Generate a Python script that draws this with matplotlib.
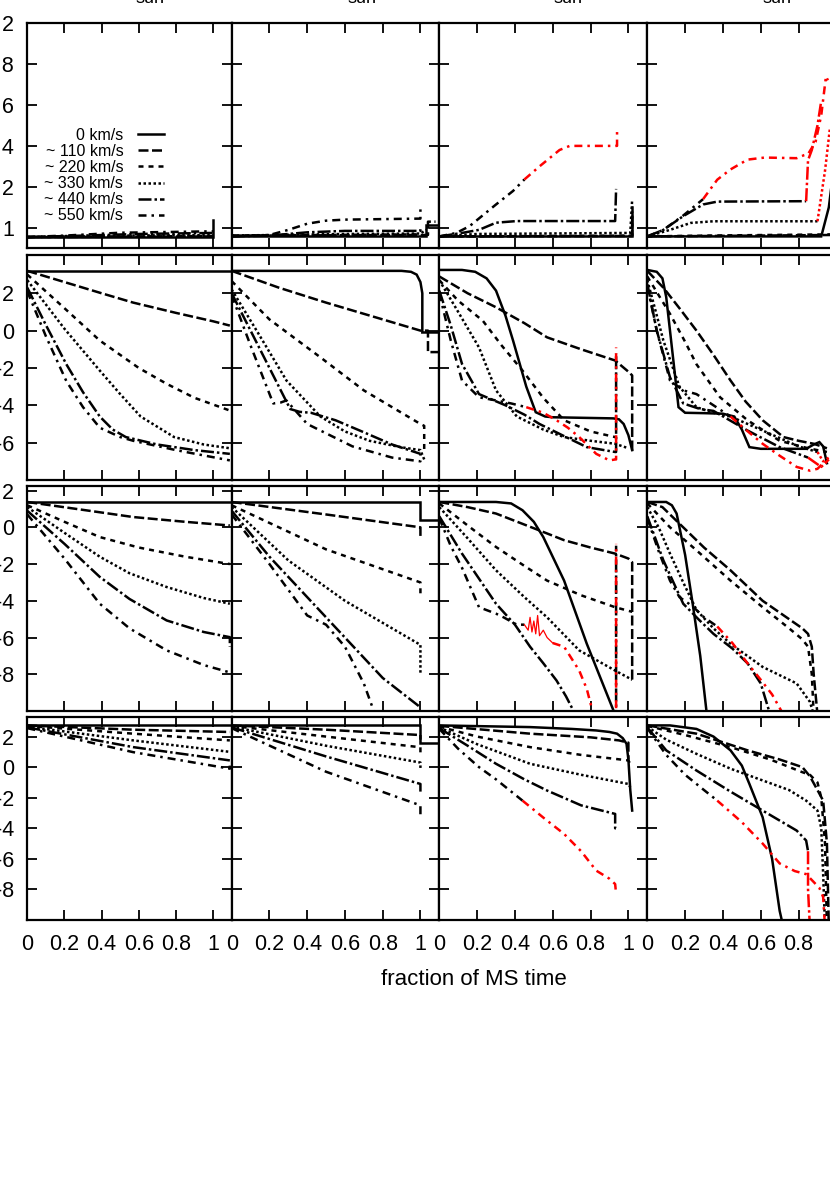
import matplotlib
matplotlib.use('Agg')
import matplotlib.pyplot as plt

plt.rcParams['font.family'] = ['Liberation Sans', 'DejaVu Sans']

# ------------------------------------------------------------
# data: (x, y) per rotation velocity
# ------------------------------------------------------------
SPEEDS = ['0', '110', '220', '330', '440', '550']
LABELS = ['0 km/s', '~ 110 km/s', '~ 220 km/s', '~ 330 km/s', '~ 440 km/s', '~ 550 km/s']
COL_TITLES = ['sun', 'sun', 'sun', 'sun']

# row 1
R1C1 = {
    '0':   ([0, 0.99, 1.0, 1.0], [0.955, 0.955, 0.955, 1.04]),
    '110': ([0, 1.0], [0.955, 0.958]),
    '220': ([0, 1.0], [0.955, 0.960]),
    '330': ([0, 0.5, 1.0], [0.955, 0.962, 0.965]),
    '440': ([0, 0.3, 0.6, 1.0], [0.955, 0.962, 0.970, 0.975]),
    '550': ([0, 0.2, 0.5, 1.0], [0.955, 0.962, 0.976, 0.983]),
}
R1C1_RED = {}

R1C2 = {
    '0':   ([0, 1.03, 1.03, 1.1], [0.962, 0.962, 1.015, 1.015]),
    '110': ([0, 1.0, 1.04, 1.04, 1.08], [0.962, 0.965, 0.965, 1.03, 1.03]),
    '220': ([0, 1.0], [0.962, 0.968]),
    '330': ([0, 0.6, 1.0, 1.03], [0.962, 0.970, 0.972, 0.99]),
    '440': ([0, 0.2, 0.4, 0.6, 1.0, 1.0], [0.958, 0.962, 0.978, 0.985, 0.985, 1.0]),
    '550': ([0, 0.2, 0.3, 0.4, 0.5, 0.6, 1.0, 1.0], [0.958, 0.965, 0.99, 1.02, 1.035, 1.04, 1.045, 1.09]),
}
R1C2_RED = {}

R1C3 = {
    '0':   ([0, 1.02, 1.02], [0.958, 0.958, 1.10]),
    '110': ([0, 1.02, 1.02], [0.958, 0.960, 1.08]),
    '220': ([0, 1.02, 1.02], [0.958, 0.962, 1.06]),
    '330': ([0, 0.2, 1.01, 1.02], [0.958, 0.970, 0.975, 1.14]),
    '440': ([0, 0.12, 0.21, 0.3, 0.41, 0.93, 0.935], [0.958, 0.975, 0.99, 1.025, 1.033, 1.033, 1.19]),
    '550': ([0, 0.09, 0.16, 0.3, 0.39, 0.45], [0.958, 0.975, 1.008, 1.114, 1.18, 1.236]),
}
R1C3_RED = {
    '550': ([0.45, 0.53, 0.636, 0.69, 0.92, 0.94, 0.94], [1.236, 1.30, 1.38, 1.40, 1.40, 1.40, 1.48]),
}

R1C4 = {
    '0':   ([0, 0.92, 0.96, 0.98], [0.958, 0.958, 1.1, 1.25]),
    '110': ([0, 0.3, 0.98], [0.958, 0.960, 0.965]),
    '220': ([0, 0.3, 0.98], [0.958, 0.962, 0.968]),
    '330': ([0, 0.12, 0.23, 0.35, 0.9], [0.958, 0.99, 1.024, 1.032, 1.032]),
    '440': ([0, 0.085, 0.19, 0.295, 0.37, 0.84], [0.958, 0.99, 1.057, 1.114, 1.128, 1.13]),
    '550': ([0, 0.085, 0.19, 0.295], [0.958, 0.99, 1.06, 1.14]),
}
R1C4_RED = {
    '330': ([0.9, 0.94, 0.965], [1.032, 1.28, 1.48]),
    '440': ([0.84, 0.85, 0.87, 0.9, 0.92], [1.13, 1.33, 1.38, 1.5, 1.62]),
    '550': ([0.295, 0.37, 0.44, 0.53, 0.62, 0.79, 0.83, 0.85, 0.89, 0.92, 0.945, 0.955],
            [1.14, 1.235, 1.285, 1.333, 1.343, 1.34, 1.355, 1.36, 1.42, 1.55, 1.74, 1.72]),
}

# row 2
R2C1 = {
    '0':   ([0, 1.09], [3.2, 3.2]),
    '110': ([0, 0.2, 0.4, 0.57, 0.8, 1.0, 1.09], [3.2, 2.6, 2.0, 1.5, 0.95, 0.5, 0.27]),
    '220': ([0, 0.2, 0.39, 0.6, 0.75, 0.9, 1.09], [3.0, 1.2, -0.53, -2.0, -2.85, -3.6, -4.28]),
    '330': ([0, 0.2, 0.39, 0.5, 0.61, 0.79, 0.95, 1.09], [2.7, 0.1, -2.14, -3.4, -4.6, -5.7, -6.1, -6.3]),
    '440': ([0, 0.1, 0.21, 0.3, 0.39, 0.46, 0.53, 0.7, 0.9, 1.09], [2.3, 0.3, -1.8, -3.3, -4.6, -5.3, -5.7, -6.1, -6.4, -6.6]),
    '550': ([0, 0.1, 0.21, 0.3, 0.39, 0.5, 0.57, 0.8, 1.09], [2.1, -0.3, -2.7, -4.1, -5.2, -5.7, -5.9, -6.4, -6.95]),
}
R2C1_RED = {}

R2C2 = {
    '0':   ([0, 0.9, 0.95, 0.98, 1.0, 1.01, 1.01, 1.1], [3.2, 3.2, 3.15, 3.0, 2.6, 2.0, -0.1, -0.1]),
    '110': ([0, 0.25, 0.5, 0.75, 1.0, 1.04, 1.04, 1.1], [3.2, 2.3, 1.5, 0.75, 0.0, 0.0, -1.15, -1.15]),
    '220': ([0, 0.2, 0.47, 0.7, 1.0, 1.02, 1.02], [2.65, 0.6, -1.43, -3.2, -5.0, -5.1, -6.5]),
    '330': ([0, 0.15, 0.29, 0.47, 0.6, 0.73, 0.9, 1.0, 1.02], [2.2, -0.3, -2.67, -4.6, -5.4, -5.9, -6.25, -6.4, -6.9]),
    '440': ([0, 0.15, 0.31, 0.36, 0.42, 0.55, 0.69, 0.85, 1.0], [2.0, -1.0, -4.2, -4.35, -4.4, -4.8, -5.4, -6.1, -6.6]),
    '550': ([0, 0.1, 0.22, 0.26, 0.29, 0.4, 0.64, 0.85, 1.0, 1.0], [1.9, -0.8, -3.9, -3.85, -3.74, -5.0, -6.2, -6.8, -7.0, -6.6]),
}
R2C2_RED = {}

R2C3 = {
    '0':   ([0, 0.12, 0.19, 0.25, 0.3, 0.35, 0.39, 0.46, 0.51, 0.56, 0.6, 0.92, 0.95, 0.975, 1.0, 1.02],
            [3.25, 3.25, 3.15, 2.8, 2.14, 0.8, -0.53, -3.0, -4.37, -4.6, -4.64, -4.7, -4.75, -5.0, -5.6, -6.4]),
    '110': ([0, 0.15, 0.3, 0.45, 0.57, 0.75, 0.93, 1.0, 1.02, 1.02], [2.9, 2.0, 1.25, 0.4, -0.36, -1.0, -1.6, -2.2, -2.4, -6.6]),
    '220': ([0, 0.1, 0.23, 0.33, 0.44, 0.55, 0.66, 0.8, 0.93], [2.7, 1.6, 0.53, -0.8, -2.14, -3.6, -4.8, -5.4, -5.7]),
    '330': ([0, 0.1, 0.21, 0.3, 0.41, 0.55, 0.66, 0.8, 0.93, 1.0], [2.7, 1.0, -0.9, -3.2, -4.6, -5.3, -5.7, -5.9, -6.06, -6.3]),
    '440': ([0, 0.06, 0.12, 0.21, 0.35, 0.45, 0.53, 0.65, 0.78, 0.93, 0.935, 0.935],
            [2.14, 0.3, -1.78, -3.4, -4.0, -4.5, -5.0, -5.6, -6.24, -6.5, -6.5, -1.2]),
    '550': ([0, 0.06, 0.12, 0.21, 0.3, 0.38, 0.46], [2.0, -0.5, -2.67, -3.57, -3.74, -3.9, -4.1]),
}
R2C3_RED = {
    '550': ([0.46, 0.55, 0.62, 0.68, 0.74, 0.83, 0.9, 0.93, 0.935, 0.935],
            [-4.1, -4.4, -4.8, -5.2, -5.7, -6.6, -6.95, -6.9, -6.9, -0.9]),
}

R2C4 = {
    '0':   ([0, 0.05, 0.08, 0.1, 0.12, 0.14, 0.165, 0.2, 0.3, 0.4, 0.46, 0.5, 0.54, 0.6, 0.84, 0.88, 0.91, 0.93, 0.95],
            [3.25, 3.15, 2.8, 1.8, 0.0, -1.8, -4.1, -4.4, -4.42, -4.45, -4.6, -5.3, -6.24, -6.33, -6.33, -6.1, -5.97, -6.2, -7.1]),
    '110': ([0, 0.085, 0.17, 0.26, 0.35, 0.44, 0.52, 0.61, 0.72, 0.8, 0.88, 0.95],
            [3.2, 2.3, 1.2, 0.0, -1.3, -2.67, -3.8, -4.8, -5.7, -5.9, -6.06, -6.3]),
    '220': ([0, 0.06, 0.12, 0.2, 0.26, 0.385, 0.53, 0.7, 0.85, 0.95], [2.9, 1.9, 0.9, -0.6, -1.8, -3.57, -4.8, -5.9, -6.3, -6.5]),
    '330': ([0, 0.04, 0.085, 0.17, 0.26, 0.35, 0.44, 0.61, 0.8, 0.9], [2.7, 1.2, -0.53, -3.0, -4.1, -4.4, -4.6, -5.35, -6.2, -6.5]),
    '440': ([0, 0.05, 0.12, 0.19, 0.28, 0.35, 0.53, 0.7, 0.85], [2.5, 0.0, -2.5, -3.9, -4.2, -4.3, -5.35, -6.24, -6.8]),
    '550': ([0, 0.05, 0.12, 0.19, 0.26, 0.35, 0.44], [2.4, 0.0, -2.67, -3.2, -3.4, -4.0, -4.6]),
}
R2C4_RED = {
    '330': ([0.9, 0.93, 0.96], [-6.5, -7.0, -6.8]),
    '440': ([0.85, 0.92, 0.96], [-6.8, -7.3, -6.9]),
    '550': ([0.44, 0.52, 0.61, 0.7, 0.79, 0.86, 0.9, 0.94, 0.96], [-4.6, -5.3, -6.06, -6.7, -7.3, -7.5, -7.4, -7.0, -7.2]),
}

# row 3
R3C1 = {
    '0':   ([0, 1.09], [1.38, 1.38]),
    '110': ([0, 0.3, 0.57, 0.85, 1.09], [1.38, 0.95, 0.56, 0.3, 0.1]),
    '220': ([0, 0.2, 0.39, 0.6, 0.85, 1.09], [1.2, 0.3, -0.53, -1.1, -1.6, -2.0]),
    '330': ([0, 0.2, 0.39, 0.55, 0.75, 0.95, 1.09], [1.1, -0.3, -1.6, -2.5, -3.25, -3.85, -4.16]),
    '440': ([0, 0.2, 0.39, 0.55, 0.75, 0.95, 1.09, 1.09], [0.9, -0.9, -2.7, -3.9, -5.07, -5.7, -5.98, -6.5]),
    '550': ([0, 0.2, 0.39, 0.55, 0.75, 0.95, 1.09], [0.7, -1.7, -4.16, -5.5, -6.7, -7.5, -7.9]),
}
R3C1_RED = {}

R3C2 = {
    '0':   ([0, 1.0, 1.0, 1.1], [1.38, 1.38, 0.4, 0.4]),
    '110': ([0, 0.5, 1.0, 1.0], [1.38, 0.7, 0.0, -0.5]),
    '220': ([0, 0.5, 1.0, 1.0], [1.2, -1.2, -3.0, -3.8]),
    '330': ([0, 0.3, 0.6, 0.85, 1.0, 1.0], [1.1, -1.8, -4.0, -5.5, -6.4, -8.0]),
    '440': ([0, 0.2, 0.4, 0.6, 0.8, 1.0], [0.9, -1.6, -3.8, -6.0, -8.2, -9.8]),
    '550': ([0, 0.2, 0.4, 0.5, 0.6, 0.7, 0.76], [0.7, -2.0, -4.8, -5.3, -6.5, -8.5, -10.2]),
}
R3C2_RED = {}

R3C3 = {
    '0':   ([0, 0.3, 0.38, 0.44, 0.5, 0.55, 0.66, 0.78, 0.86, 0.93], [1.38, 1.38, 1.3, 0.93, 0.3, -0.53, -2.9, -6.34, -8.4, -10.2]),
    '110': ([0, 0.15, 0.3, 0.5, 0.66, 0.8, 0.93, 1.0, 1.02, 1.02], [1.38, 1.1, 0.75, -0.05, -0.7, -1.1, -1.43, -1.7, -1.9, -8.3]),
    '220': ([0, 0.15, 0.3, 0.45, 0.57, 0.75, 0.93, 1.02], [1.3, 0.1, -1.07, -2.1, -2.9, -3.7, -4.35, -4.6]),
    '330': ([0, 0.15, 0.3, 0.45, 0.57, 0.74, 0.93, 1.02], [1.1, -0.6, -2.34, -3.8, -4.9, -6.7, -7.8, -8.3]),
    '440': ([0, 0.12, 0.3, 0.4, 0.48, 0.55, 0.62, 0.67, 0.71, 0.9, 0.935, 0.935],
            [0.6, -1.43, -4.16, -5.3, -6.5, -7.4, -8.34, -9.2, -10.0, -14.0, -14.0, -1.0]),
    '550': ([0, 0.06, 0.12, 0.21, 0.3, 0.34, 0.41, 0.45], [0.5, -1.0, -2.2, -4.35, -4.7, -4.9, -5.3, -5.3]),
}
R3C3_RED = {
    '550': ([0.6, 0.66, 0.74, 0.78, 0.81, 0.9, 0.935, 0.935], [-6.3, -6.5, -7.8, -8.8, -10.0, -13.0, -13.0, -0.9]),
}
# jagged red stretch drawn thin
R3C3_NOISE_X = [0.45, 0.47, 0.48, 0.49, 0.5, 0.51, 0.52, 0.53, 0.55, 0.57, 0.6]
R3C3_NOISE_Y = [-5.3, -5.6, -4.9, -5.7, -5.1, -5.8, -4.8, -5.9, -5.6, -6.0, -6.3]

R3C4 = {
    '0':   ([0, 0.1, 0.13, 0.155, 0.2, 0.24, 0.28, 0.315], [1.38, 1.38, 1.2, 0.75, -1.5, -4.16, -7.0, -10.2]),
    '110': ([0, 0.08, 0.17, 0.3, 0.44, 0.61, 0.75, 0.82, 0.85, 0.87, 0.88, 0.9],
            [1.38, 1.1, 0.2, -1.1, -2.34, -4.0, -5.0, -5.5, -5.8, -6.5, -8.0, -10.2]),
    '220': ([0, 0.12, 0.26, 0.44, 0.61, 0.75, 0.82, 0.85, 0.87, 0.88], [1.3, 0.0, -1.25, -2.9, -4.35, -5.5, -6.1, -6.5, -8.0, -10.2]),
    '330': ([0, 0.06, 0.12, 0.19, 0.26, 0.35, 0.44, 0.61, 0.79, 0.86, 0.88],
            [1.1, 0.0, -1.43, -3.0, -4.5, -5.5, -6.34, -7.6, -8.5, -9.5, -10.2]),
    '440': ([0, 0.085, 0.19, 0.27, 0.35, 0.45, 0.53, 0.6, 0.65], [0.6, -1.8, -4.16, -5.0, -5.8, -6.6, -7.4, -8.5, -10.2]),
    '550': ([0, 0.06, 0.12, 0.17, 0.22, 0.26, 0.3, 0.37], [0.5, -1.3, -2.9, -3.8, -4.16, -4.5, -4.9, -5.4]),
}
R3C4_RED = {
    '550': ([0.37, 0.45, 0.53, 0.6, 0.66, 0.72], [-5.4, -6.3, -7.4, -8.3, -9.1, -10.2]),
}

# row 4
R4C1 = {
    '0':   ([0, 1.09], [2.73, 2.73]),
    '110': ([0, 0.57, 1.09], [2.73, 2.45, 2.3]),
    '220': ([0, 0.57, 1.09], [2.7, 2.19, 1.75]),
    '330': ([0, 0.57, 1.09], [2.65, 1.75, 1.0]),
    '440': ([0, 0.57, 1.09], [2.6, 1.31, 0.44]),
    '550': ([0, 0.57, 1.09, 1.09], [2.55, 0.98, -0.1, 0.1]),
}
R4C1_RED = {}

R4C2 = {
    '0':   ([0, 1.0, 1.0, 1.1], [2.73, 2.73, 1.6, 1.6]),
    '110': ([0, 0.5, 1.0, 1.0], [2.73, 2.45, 2.1, 1.8]),
    '220': ([0, 0.5, 1.0, 1.0], [2.7, 2.0, 1.3, 0.9]),
    '330': ([0, 0.5, 1.0, 1.0], [2.65, 1.4, 0.3, -0.2]),
    '440': ([0, 0.5, 1.0, 1.0], [2.6, 0.7, -1.1, -1.6]),
    '550': ([0, 0.5, 1.0, 1.0], [2.55, -0.3, -2.5, -3.2]),
}
R4C2_RED = {}

R4C3 = {
    '0':   ([0, 0.48, 0.7, 0.83, 0.9, 0.94, 0.97, 0.99, 1.0, 1.01, 1.02], [2.73, 2.62, 2.5, 2.4, 2.3, 2.19, 1.9, 1.53, 0.5, -1.5, -2.84]),
    '110': ([0, 0.48, 0.8, 0.95, 1.0, 1.0], [2.7, 2.19, 1.95, 1.75, 1.6, 0.5]),
    '220': ([0, 0.2, 0.48, 0.75, 1.0, 1.01], [2.65, 2.0, 1.31, 0.8, 0.44, 0.2]),
    '330': ([0, 0.2, 0.48, 0.75, 1.0, 1.01], [2.6, 1.5, 0.22, -0.5, -1.1, -1.3]),
    '440': ([0, 0.15, 0.3, 0.45, 0.57, 0.75, 0.93, 0.93, 0.95], [2.55, 1.4, 0.22, -0.8, -1.53, -2.5, -3.06, -4.0, -4.0]),
    '550': ([0, 0.1, 0.21, 0.3, 0.44], [2.5, 1.2, 0.0, -0.8, -2.19]),
}
R4C3_RED = {
    '550': ([0.44, 0.55, 0.66, 0.75, 0.83, 0.9, 0.93, 0.935], [-2.19, -3.3, -4.37, -5.5, -6.77, -7.3, -7.65, -8.3]),
}

R4C4 = {
    '0':   ([0, 0.12, 0.26, 0.35, 0.44, 0.5, 0.54, 0.61, 0.66, 0.7, 0.72], [2.73, 2.73, 2.5, 2.0, 1.1, 0.1, -1.1, -3.28, -6.0, -9.4, -10.5]),
    '110': ([0, 0.26, 0.53, 0.7, 0.82, 0.86, 0.9, 0.93, 0.95, 0.96], [2.73, 2.19, 1.1, 0.5, 0.0, -0.6, -1.5, -2.19, -5.0, -10.5]),
    '220': ([0, 0.2, 0.44, 0.65, 0.82, 0.86, 0.9, 0.92, 0.94, 0.95], [2.7, 2.1, 1.31, 0.5, -0.33, -0.5, -1.0, -2.0, -5.0, -10.5]),
    '330': ([0, 0.1, 0.26, 0.44, 0.61, 0.75, 0.84, 0.9, 0.92, 0.93, 0.94], [2.65, 1.8, 0.87, -0.1, -0.87, -1.5, -2.19, -2.84, -4.0, -7.0, -10.5]),
    '440': ([0, 0.1, 0.26, 0.44, 0.61, 0.79, 0.84, 0.85], [2.6, 1.1, -0.22, -1.6, -2.84, -4.15, -4.8, -5.5]),
    '550': ([0, 0.1, 0.2, 0.3, 0.37], [2.55, 0.8, -0.5, -1.5, -2.19]),
}
R4C4_RED = {
    '440': ([0.85, 0.85, 0.86], [-5.5, -8.0, -10.5]),
    '550': ([0.37, 0.5, 0.61, 0.7, 0.78, 0.84, 0.91, 0.93, 0.94], [-2.19, -3.6, -5.0, -6.3, -6.8, -7.0, -7.9, -8.5, -10.5]),
}

PANELS = [[R1C1, R1C2, R1C3, R1C4],
          [R2C1, R2C2, R2C3, R2C4],
          [R3C1, R3C2, R3C3, R3C4],
          [R4C1, R4C2, R4C3, R4C4]]
REDS = [[R1C1_RED, R1C2_RED, R1C3_RED, R1C4_RED],
        [R2C1_RED, R2C2_RED, R2C3_RED, R2C4_RED],
        [R3C1_RED, R3C2_RED, R3C3_RED, R3C4_RED],
        [R4C1_RED, R4C2_RED, R4C3_RED, R4C4_RED]]

ROW_YLIM = [(0.9, 2.0), (-8.0, 4.05), (-10.0, 2.25), (-10.0, 3.3)]
ROW_YTICKS = [[1.0, 1.2, 1.4, 1.6, 1.8, 2.0],
              [-6, -4, -2, 0, 2],
              [-8, -6, -4, -2, 0, 2],
              [-8, -6, -4, -2, 0, 2]]
ROW_YLABELS = [['1', '1.2', '1.4', '1.6', '1.8', '2'],
               ['-6', '-4', '-2', '0', '2'],
               ['-8', '-6', '-4', '-2', '0', '2'],
               ['-8', '-6', '-4', '-2', '0', '2']]
XTICKS = [0, 0.2, 0.4, 0.6, 0.8, 1.0]
XLABELS = ['0', '0.2', '0.4', '0.6', '0.8', '1']

# ------------------------------------------------------------
# styling / layout (pixels of the 830 x 1186 canvas)
# ------------------------------------------------------------
W, H = 830, 1186
LW = 1.8
STYLES = {
    '0':   '-',
    '110': (0, (4, 1.4)),
    '220': (0, (2, 2)),
    '330': (0, (1, 1)),
    '440': (0, (5.2, 1.2, 1, 1.2)),
    '550': (0, (3.2, 2, 1, 2)),
}
COL_LEFT = [27.3, 231.7, 439.3, 647.3]
COL_W = [204.4, 207.6, 208.0, 208.0]
ROW_TOP = [23.0, 255.0, 486.0, 716.7]
ROW_BOT = [248.3, 480.0, 711.0, 920.0]
TITLE_X = [149.5, 361.5, 567.5, 776.5]

fig = plt.figure(figsize=(W / 100, H / 100), dpi=100)
fig.patch.set_facecolor('white')

legend_handles = []
for r in range(4):
    for c in range(4):
        ax = fig.add_axes([COL_LEFT[c] / W, 1 - ROW_BOT[r] / H,
                           COL_W[c] / W, (ROW_BOT[r] - ROW_TOP[r]) / H])
        for s in SPEEDS:
            if s in PANELS[r][c]:
                xs, ys = PANELS[r][c][s]
                ln, = ax.plot(xs, ys, color='black', lw=LW, ls=STYLES[s],
                              dash_capstyle='butt', solid_joinstyle='miter')
                if r == 0 and c == 0:
                    legend_handles.append(ln)
            if s in REDS[r][c]:
                xs, ys = REDS[r][c][s]
                ax.plot(xs, ys, color='red', lw=LW, ls=STYLES[s], dash_capstyle='butt')
        if r == 2 and c == 2:
            ax.plot(R3C3_NOISE_X, R3C3_NOISE_Y, color='red', lw=0.9)

        ax.set_xlim(0, 1.1)
        ax.set_ylim(*ROW_YLIM[r])
        ax.set_xticks(XTICKS)
        ax.set_yticks(ROW_YTICKS[r])
        ax.set_xticklabels(XLABELS if r == 3 else [])
        ax.set_yticklabels(ROW_YLABELS[r] if c == 0 else [])
        ax.tick_params(direction='in', top=True, right=True, length=7.5, width=1.3,
                       labelsize=15.5, colors='black')
        ax.tick_params(axis='y', pad=9.5)
        ax.tick_params(axis='x', pad=10)
        for sp in ax.spines.values():
            sp.set_linewidth(1.6)

        if r == 0 and c == 0:
            ax.legend(legend_handles, LABELS, loc='upper right',
                      bbox_to_anchor=(0.669, 0.535), markerfirst=False, frameon=False,
                      fontsize=11.5, handlelength=1.6, handletextpad=0.95,
                      labelspacing=0.07, borderpad=0, borderaxespad=0)

for x, t in zip(TITLE_X, COL_TITLES):
    fig.text(x / W, 1 - 2.7 / H, t, ha='center', va='baseline', fontsize=13)

fig.text(474 / W, 1 - 985 / H, 'fraction of MS time', ha='center', va='baseline', fontsize=16)

fig.savefig('out.png', dpi=100, facecolor='white')
